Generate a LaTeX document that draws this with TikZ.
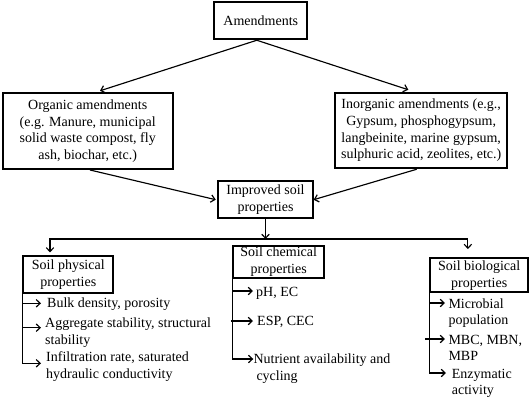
\documentclass[tikz,border=0pt]{standalone}
\usepackage{fontspec}
\setmainfont{Liberation Serif}
\usetikzlibrary{arrows.meta}
\newcommand{\dfont}{\fontsize{14}{16.7}\selectfont}
\begin{document}
\begin{tikzpicture}[x=1pt,y=-1pt,
  box/.style={draw,line width=1.9pt,inner sep=0pt,align=center,font=\dfont},
  item/.style={anchor=north west,align=left,inner sep=0pt,font=\dfont},
  conn/.style={line width=1.15pt,-{Straight Barb[length=4pt,width=7.5pt]}},
  conntwo/.style={line width=1.15pt,{Straight Barb[length=4pt,width=7.5pt]}-{Straight Barb[length=4pt,width=7.5pt]}}]
\fill[white] (0,0) rectangle (531,402);
\useasboundingbox (0,0) rectangle (531,402);

% boxes
\node[box,minimum width=93pt,minimum height=37.6pt] (amend) at (260.8,20.5) {Amendments};
\node[box,minimum width=170pt,minimum height=75.7pt] (org) at (87.7,131.2)
  {Organic amendments\\(e.g. Manure, municipal\\solid waste compost, fly\\ash, biochar, etc.)};
\node[box,minimum width=172.3pt,minimum height=75.6pt] (inorg) at (421.2,130.5)
  {Inorganic amendments (e.g.,\\Gypsum, phosphogypsum,\\langbeinite, marine gypsum,\\sulphuric acid, zeolites, etc.)};
\node[box,minimum width=94.4pt,minimum height=37.3pt] (impr) at (265.5,199.7) {Improved soil\\properties};
\node[box,minimum width=90pt,minimum height=37.3pt] (phys) at (68.3,274.7) {Soil physical\\properties};
\node[box,minimum width=90.7pt,minimum height=31.7pt] (chem) at (278.7,261.8) {Soil chemical\\properties};
\node[box,minimum width=98.3pt,minimum height=34pt] (bio) at (479.2,275.3) {Soil biological\\properties};

% upper connectors
\draw[conn] ([xshift=-4pt]amend.south) -- ([xshift=12.3pt,yshift=1.6pt]org.north);
\draw[conn] ([xshift=-4pt]amend.south) -- ([xshift=-12.9pt,yshift=2pt]inorg.north);
\draw[conn] ([xshift=2.3pt]org.south) -- ([xshift=-1.6pt]impr.west);
\draw[conn] ([xshift=-4.5pt]inorg.south) -- (impr.east);

% bus
\coordinate (bus) at (265.5,239);
\coordinate (physTip) at ([xshift=-18.3pt,yshift=2.7pt]phys.north);
\coordinate (bioTip) at ([xshift=-11.3pt,yshift=8.3pt]bio.north);
\draw[conn] (impr.south) -- (bus);
\draw[conntwo] (physTip) -- (physTip |- bus) -- (bioTip |- bus) -- (bioTip);

% items
\node[item] (bulk) at (47,295.8) {\strut Bulk density, porosity};
\node[item] (aggr) at (45,315.8) {\strut Aggregate stability, structural\\stability};
\node[item] (infl) at (46,350) {\strut Infiltration rate, saturated\\hydraulic conductivity};
\node[item] (ph) at (256,284.3) {\strut pH, EC};
\node[item] (esp) at (257,313.9) {\strut ESP, CEC};
\node[item] (nutr) at (253.3,351.6) {\strut Nutrient availability and\\\hspace*{3pt}cycling};
\node[item] (micro) at (448.3,296.3) {\strut Microbial\\population};
\node[item] (mbc) at (448.3,332.3) {\strut MBC, MBN,\\MBP};
\node[item] (enz) at (451.7,366.3) {\strut Enzymatic\\activity};

\coordinate (tbulk) at ([xshift=-6pt,yshift=-7.5pt]bulk.north west);
\coordinate (taggr) at ([xshift=-4pt,yshift=-11.9pt]aggr.north west);
\coordinate (tinfl) at ([xshift=-5pt,yshift=-13.3pt]infl.north west);
\coordinate (tph) at ([xshift=-3pt,yshift=-6.7pt]ph.north west);
\coordinate (tesp) at ([xshift=-4pt,yshift=-7.1pt]esp.north west);
\coordinate (tnutr) at ([xshift=0pt,yshift=-7.4pt]nutr.north west);
\coordinate (tmicro) at ([xshift=-3.3pt,yshift=-6.7pt]micro.north west);
\coordinate (tmbc) at ([xshift=-3.3pt,yshift=-6.7pt]mbc.north west);
\coordinate (tenz) at ([xshift=-5.7pt,yshift=-6.7pt]enz.north west);

% physical list
\draw[conn] (phys.south west) -- (phys.south west |- tinfl) -- (tinfl);
\draw[conn] (phys.south west |- tbulk) -- (tbulk);
\draw[conn] (phys.south west |- taggr) -- (taggr);
% chemical list
\draw[conn] (chem.south west) -- (chem.south west |- tnutr) -- (tnutr);
\draw[conn] (chem.south west |- tph) -- (tph);
\draw[conn] (chem.south west |- tesp) ++(-1.5,0) -- (tesp);
% biological list
\draw[conn] (bio.south west) -- (bio.south west |- tenz) -- (tenz);
\draw[conn] (bio.south west |- tmicro) -- (tmicro);
\draw[conn] (bio.south west |- tmbc) ++(-4,0) -- (tmbc);
\end{tikzpicture}
\end{document}
